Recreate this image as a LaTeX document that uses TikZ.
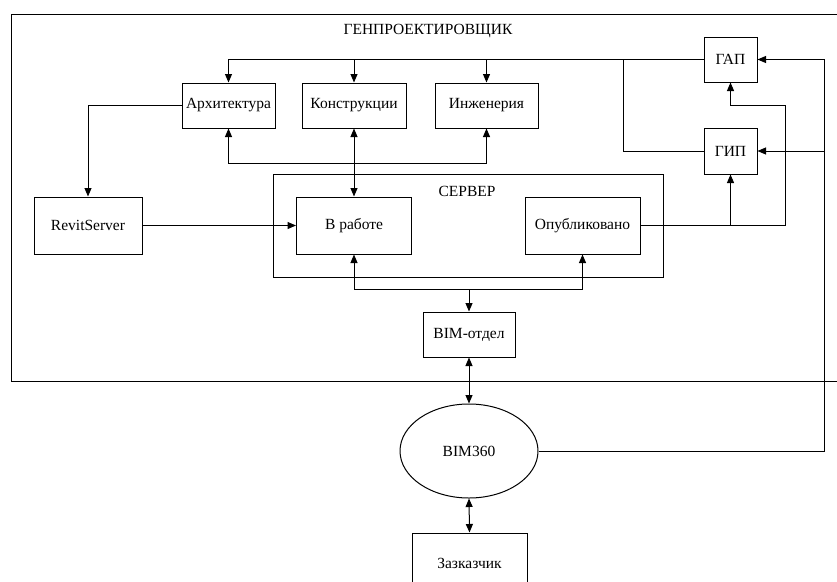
\documentclass[tikz,border=0pt]{standalone}
\usepackage{fontspec}
\setmainfont{Liberation Serif}
\usetikzlibrary{arrows.meta,shapes.geometric}
\begin{document}
\begin{tikzpicture}[x=1pt,y=-1pt,
  line width=1pt,
  >={Triangle[length=8.5pt,width=7pt]},
  box/.style={draw,rectangle,inner sep=0pt,font=\fontsize{15.5}{18}\selectfont},
  lbl/.style={inner sep=0pt,font=\fontsize{15.5}{18}\selectfont}]
\useasboundingbox (0,0) rectangle (837,581);
\draw (845,14) -- (11,14) -- (11,381) -- (845,381);
\node[lbl] (title) at (428,31) {ГЕНПРОЕКТИРОВЩИК};
\node[box,minimum width=93pt,minimum height=45pt] (arch) at (228.5,105.5) {Архитектура};
\node[box,minimum width=104pt,minimum height=45pt] (kon) at (354,105.5) {Конструкции};
\node[box,minimum width=103pt,minimum height=45pt] (inz) at (486.5,105.5) {Инженерия};
\node[box,minimum width=53pt,minimum height=45pt] (gap) at (730.5,59.5) {ГАП};
\node[box,minimum width=53pt,minimum height=46pt] (gip) at (730.5,151) {ГИП};
\node[box,minimum width=108pt,minimum height=57pt] (rs) at (88,225.5) {RevitServer};
\node[box,minimum width=390pt,minimum height=103pt] (srv) at (468,225.5) {};
\node[lbl] (srvl) at (467,191) {СЕРВЕР};
\node[box,minimum width=115pt,minimum height=57pt] (vr) at (354,225.5) {В работе};
\node[box,minimum width=115pt,minimum height=57pt] (op) at (582.5,225.5) {Опубликовано};
\node[box,minimum width=92pt,minimum height=45pt] (bim) at (469,334.5) {BIM-отдел};
\node[box,ellipse,minimum width=138pt,minimum height=94pt] (b360) at (469,451) {BIM360};
\node[box,minimum width=115pt,minimum height=60pt] (zak) at (469.5,563) {Зазказчик};
\coordinate (j1) at (623,60);
\coordinate (b1) at (0,163);
\coordinate (b2) at (0,289);
\coordinate (rx) at (824,0);
\coordinate (r2) at (785,105);
% top distribution
\draw[->] (gap.west) -| (arch.north);
\draw[->] (kon.north |- gap.west) -- (kon.north);
\draw[->] (inz.north |- gap.west) -- (inz.north);
\draw (gip.west) -| (j1);
% bottom of disciplines
\draw[<->] (arch.south) |- (inz.south |- b1) -- (inz.south);
\draw[<->] (kon.south) -- (vr.north);
\draw[->] (arch.west) -| (rs.north);
\draw[->] (rs.east) -- (vr.west);
% below server
\draw[<->] (vr.south) |- (op.south |- b2) -- (op.south);
\draw[->] (bim.north |- b2) -- (bim.north);
\draw[<->] (bim.south) -- (b360.north);
\draw[<->] (b360.south) -- (zak.north);
% right side
\draw[->] (b360.east) -| (rx |- gap.east) -- (gap.east);
\draw[->] (rx |- gip.east) -- (gip.east);
\draw[->] (op.east) -| (r2) -| (gap.south);
\draw[->] (gip.south |- op.east) -- (gip.south);
\end{tikzpicture}
\end{document}
